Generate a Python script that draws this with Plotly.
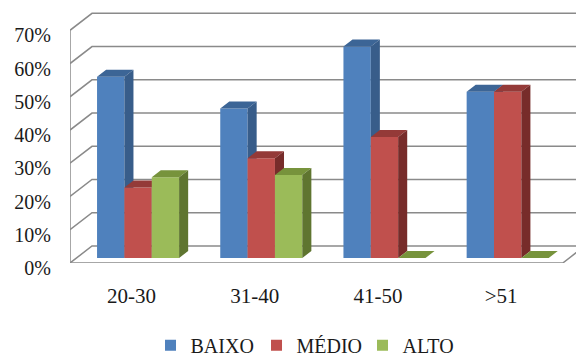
import plotly.graph_objects as go

# Age groups and the share of each level in every group (%)
categories = ["20-30", "31-40", "41-50", ">51"]
baixo = [54.5, 45.0, 63.6, 50.0]
medio = [21.2, 30.0, 36.4, 50.0]
alto = [24.3, 25.0, 0.0, 0.0]
y_ticks = [0, 10, 20, 30, 40, 50, 60, 70]

series = [
    ("BAIXO", baixo, "#4F81BD", "#3C6596", "#385D8A"),
    ("MÉDIO", medio, "#C0504D", "#943A38", "#772C2A"),
    ("ALTO", alto, "#9BBB59", "#77933C", "#5F7530"),
]

# Pseudo-3D geometry in data units
DX = 0.1786          # full depth offset along x (category units)
DY = 5.11            # full depth offset along y (percent units)
F0, F1 = 5 / 17, 12 / 17   # front / back plane of the bars inside the depth
BAR_W = 0.222
Y_TOP = 70
n = len(categories)

fig = go.Figure()

# Walls: back-wall gridlines, side-wall diagonals, axis and floor edges
gx, gy = [], []
for v in y_ticks:
    gx += [-0.5, -0.5 + DX, n - 0.5 + DX + 0.5, None]
    gy += [v, v + DY, v + DY, None]
gx += [-0.5, -0.5, None, -0.5, n - 0.5, n - 0.5 + DX, None]
gy += [0, Y_TOP, None, 0, 0, DY, None]
fig.add_trace(go.Scatter(x=gx, y=gy, mode="lines",
                         line=dict(color="#8A8A8A", width=1.5),
                         hoverinfo="skip", showlegend=False))

# Bars: front, top and side faces, painted left to right
for s, (name, vals, c_front, c_top, c_side) in enumerate(series):
    fx, fy, tx, ty, sx, sy = [], [], [], [], [], []
    for c, v in enumerate(vals):
        L = c + F0 * DX - 1.5 * BAR_W + s * BAR_W
        R = L + BAR_W
        y0 = F0 * DY
        ddx = (F1 - F0) * DX
        ddy = (F1 - F0) * DY
        fx += [L, R, R, L, L, None]
        fy += [y0, y0, y0 + v, y0 + v, y0, None]
        tx += [L, R, R + ddx, L + ddx, L, None]
        ty += [y0 + v, y0 + v, y0 + v + ddy, y0 + v + ddy, y0 + v, None]
        sx += [R, R + ddx, R + ddx, R, R, None]
        sy += [y0, y0 + ddy, y0 + v + ddy, y0 + v, y0, None]
    for xs, ys, col in ((fx, fy, c_front), (tx, ty, c_top), (sx, sy, c_side)):
        fig.add_trace(go.Scatter(x=xs, y=ys, mode="lines", fill="toself",
                                 fillcolor=col, line=dict(width=0, color=col),
                                 hoverinfo="skip", showlegend=False))

# Legend entries
for name, vals, c_front, _, _ in series:
    fig.add_trace(go.Scatter(x=[None], y=[None], mode="markers", name=name,
                             marker=dict(symbol="square", size=11, color=c_front)))

font = "Liberation Serif, Tinos, Times New Roman, serif"
fig.update_layout(
    width=576, height=356,
    margin=dict(l=70, r=0, t=0, b=93),
    paper_bgcolor="white", plot_bgcolor="white",
    font=dict(family=font, color="#1A1A1A", size=20),
    xaxis=dict(range=[-0.5, -0.5 + 506 / 123.2], tickvals=list(range(n)),
               ticktext=categories, showgrid=False, zeroline=False,
               showline=False, ticks="", tickfont=dict(family=font, size=21),
               ticklabelstandoff=18, fixedrange=True),
    yaxis=dict(range=[0, 263 / 3.324], tickvals=y_ticks,
               ticktext=[f"{v}%" for v in y_ticks], showgrid=False,
               zeroline=False, showline=False, ticks="",
               tickfont=dict(family=font, size=20), ticklabelstandoff=18,
               ticklabelshift=5, fixedrange=True),
    legend=dict(orientation="h", xref="container", yref="container",
                x=0.2613, y=0.03, xanchor="left", yanchor="middle",
                entrywidth=61, entrywidthmode="pixels",
                font=dict(family=font, size=20), itemclick=False),
    showlegend=True,
)

fig.write_html("out.html")
